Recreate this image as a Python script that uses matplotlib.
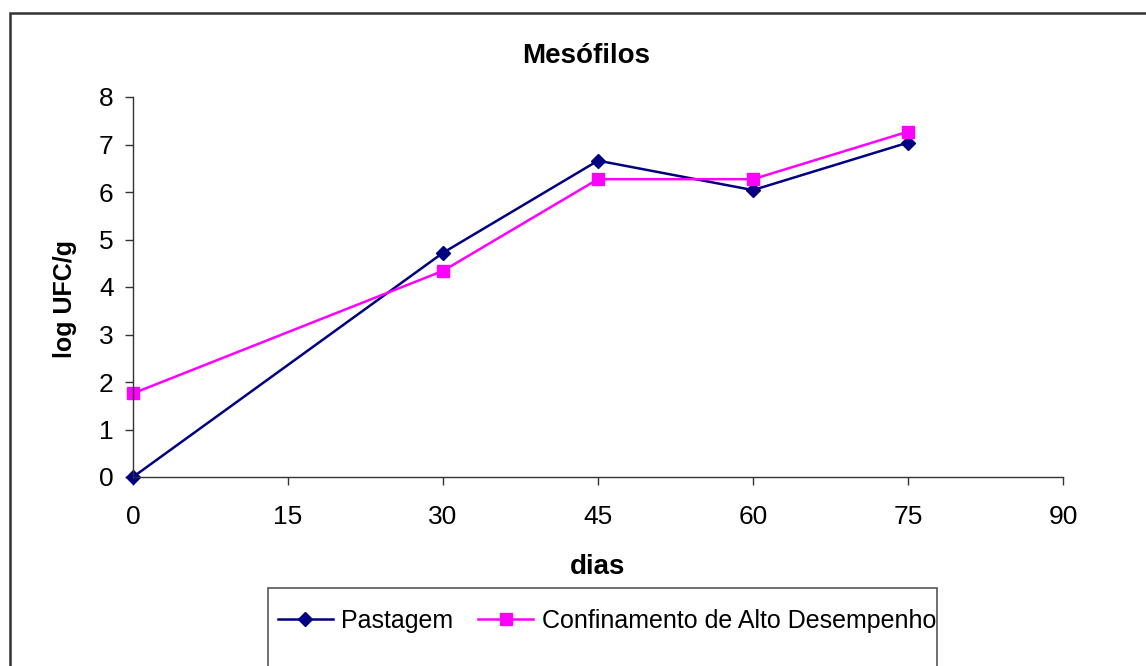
import matplotlib.pyplot as plt
from matplotlib.patches import Rectangle

plt.rcParams['font.family'] = ['Liberation Sans', 'DejaVu Sans']

# dias de coleta e contagens (log UFC/g)
dias = [0, 30, 45, 60, 75]
pastagem = [0.0, 4.72, 6.66, 6.04, 7.04]
confinamento = [1.76, 4.34, 6.27, 6.27, 7.27]

xticks = [0, 15, 30, 45, 60, 75, 90]
yticks = [0, 1, 2, 3, 4, 5, 6, 7, 8]

W, H = 1146, 666
fig = plt.figure(figsize=(W / 100, H / 100), dpi=100)
ax = fig.add_axes([133 / W, 1 - 477 / H, (1063 - 133) / W, (477 - 97) / H])

l1, = ax.plot(dias, pastagem, color='#000080', lw=1.8, marker='D', ms=7.5,
              label='Pastagem', clip_on=False)
l2, = ax.plot(dias, confinamento, color='#FF00FF', lw=1.8, marker='s', ms=8,
              label='Confinamento de Alto Desempenho', clip_on=False)

ax.set_xlim(0, 90)
ax.set_ylim(0, 8)
ax.set_xticks(xticks)
ax.set_yticks(yticks)
ax.tick_params(labelsize=19, length=6, width=1, color='#333333')
ax.tick_params(axis='x', pad=14)
ax.tick_params(axis='y', pad=8)
ax.spines['top'].set_visible(False)
ax.spines['right'].set_visible(False)
for s in ('left', 'bottom'):
    ax.spines[s].set_color('#333333')
    ax.spines[s].set_linewidth(1)

fig.text(586 / W, 1 - 56 / H, 'Mesófilos', ha='center', va='center',
         fontsize=20, fontweight='bold')
fig.text(598 / W, 1 - 567 / H, 'dias', ha='center', va='center',
         fontsize=20, fontweight='bold')
fig.text(65 / W, 1 - 299 / H, 'log UFC/g', ha='center', va='center',
         fontsize=18, fontweight='bold', rotation=90)

# legenda e molduras
fig.legend(handles=[l1, l2], loc='center', bbox_to_anchor=(607 / W, 1 - 621 / H),
           ncol=2, frameon=False, fontsize=18, handlelength=2.2,
           handletextpad=0.35, columnspacing=1.0)
fig.patches.append(Rectangle((268 / W, -0.05), (937 - 268) / W, 0.05 + (H - 588) / H,
                             transform=fig.transFigure, fill=False,
                             edgecolor='#555555', lw=1.2))
fig.patches.append(Rectangle((10 / W, -0.05), 1.1, 0.05 + (H - 13) / H,
                             transform=fig.transFigure, fill=False,
                             edgecolor='#333333', lw=1.8))

fig.savefig('out.png', dpi=100)
